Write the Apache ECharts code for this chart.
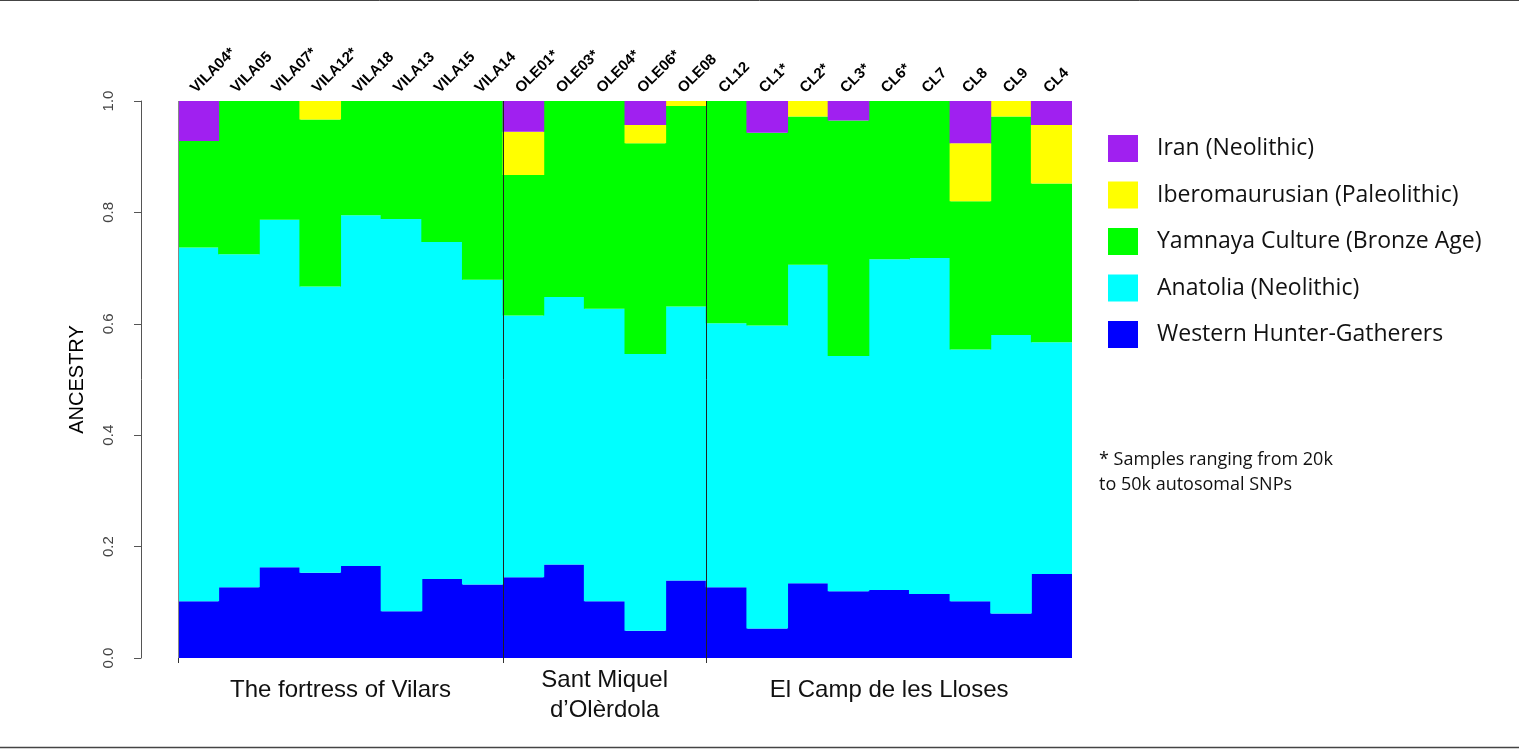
<!DOCTYPE html>
<html>
<head>
<meta charset="utf-8">
<title>Ancestry</title>
<script src="https://cdn.jsdelivr.net/npm/echarts@6/dist/echarts.min.js"></script>
<style>
  html, body { margin: 0; padding: 0; background: #fff; }
  #chart { width: 1519px; height: 750px; }
</style>
</head>
<body>
<div id="chart"></div>
<script>
// samples, left to right
const samples = ['VILA04*', 'VILA05', 'VILA07*', 'VILA12*', 'VILA18', 'VILA13', 'VILA15', 'VILA14',
  'OLE01*', 'OLE03*', 'OLE04*', 'OLE06*', 'OLE08',
  'CL12', 'CL1*', 'CL2*', 'CL3*', 'CL6*', 'CL7', 'CL8', 'CL9', 'CL4']

// ancestry proportions (bottom to top)
const whg      = [0.102, 0.127, 0.163, 0.153, 0.165, 0.084, 0.142, 0.132, 0.145, 0.168, 0.102, 0.049, 0.139, 0.127, 0.053, 0.134, 0.120, 0.122, 0.115, 0.102, 0.080, 0.151]
const anatolia = [0.635, 0.598, 0.624, 0.514, 0.630, 0.704, 0.605, 0.547, 0.470, 0.480, 0.525, 0.497, 0.492, 0.474, 0.544, 0.572, 0.422, 0.594, 0.603, 0.452, 0.500, 0.416]
const yamnaya  = [0.191, 0.275, 0.213, 0.300, 0.205, 0.212, 0.253, 0.321, 0.252, 0.352, 0.373, 0.378, 0.360, 0.399, 0.346, 0.266, 0.423, 0.284, 0.282, 0.266, 0.392, 0.285]
const ibero    = [0, 0, 0, 0.033, 0, 0, 0, 0, 0.078, 0, 0, 0.033, 0.009, 0, 0, 0.028, 0, 0, 0, 0.104, 0.028, 0.105]
const iran     = [0.072, 0, 0, 0, 0, 0, 0, 0, 0.055, 0, 0, 0.043, 0, 0, 0.057, 0, 0.035, 0, 0, 0.076, 0, 0.043]

const groupNames = ['The fortress of Vilars', 'Sant Miquel\nd\u2019Ol\u00e8rdola', 'El Camp de les Lloses']
const groupSizes = [8, 5, 9]
const groupStarts = [0, 8, 13]

const names = ['Western Hunter-Gatherers', 'Anatolia (Neolithic)', 'Yamnaya Culture (Bronze Age)', 'Iberomaurusian (Paleolithic)', 'Iran (Neolithic)']
const colors = ['#0000ff', '#00ffff', '#00ff00', '#ffff00', '#a020f0']
const values = [whg, anatolia, yamnaya, ibero, iran]

const gridLeft = 178, gridRight = 1072
const bandW = (gridRight - gridLeft) / samples.length

const chart = echarts.init(document.getElementById('chart'))

// bars overlap by a pixel so no seams show between neighbours
const series = values.map((v, i) => ({
  name: names[i],
  type: 'bar',
  stack: 'all',
  data: v,
  barWidth: bandW + 1,
  itemStyle: { color: colors[i] },
  emphasis: { disabled: true }
}))

// group separators
series.push({
  type: 'line',
  xAxisIndex: 1,
  data: [],
  silent: true,
  markLine: {
    silent: true,
    symbol: 'none',
    label: { show: false },
    data: groupStarts.map((s, i) => ({
      xAxis: s,
      lineStyle: { color: i === 0 ? '#888' : '#222', width: 1, type: 'solid' }
    }))
  }
})

const graphics = groupNames.map((g, i) => ({
  type: 'text',
  x: gridLeft + (groupStarts[i] + groupSizes[i] / 2) * bandW,
  y: i === 1 ? 695 : 690,
  style: {
    text: g,
    textAlign: 'center',
    textVerticalAlign: 'middle',
    fontFamily: 'Liberation Sans, Arial, sans-serif',
    fontSize: 24,
    lineHeight: 30,
    fill: '#111'
  }
}))
graphics.push(
  {
    type: 'text', x: 1099, y: 472,
    style: {
      text: '* Samples ranging from 20k\nto 50k autosomal SNPs',
      fontFamily: 'Open Sans, sans-serif', fontSize: 18, lineHeight: 25,
      textVerticalAlign: 'middle', fill: '#111'
    }
  },
  { type: 'line', shape: { x1: 0, y1: 0.5, x2: 1519, y2: 0.5 }, style: { stroke: '#444', lineWidth: 1 } },
  { type: 'line', shape: { x1: 0, y1: 747.5, x2: 1519, y2: 747.5 }, style: { stroke: '#444', lineWidth: 1.5 } }
)

chart.setOption({
  animation: false,
  grid: { left: gridLeft, right: 1519 - gridRight, top: 101, bottom: 92 },
  legend: {
    data: names.slice().reverse(),
    orient: 'vertical',
    left: 1108,
    top: 135,
    padding: 0,
    itemWidth: 30,
    itemHeight: 27,
    itemGap: 19.5,
    icon: 'rect',
    selectedMode: false,
    textStyle: { fontFamily: 'Open Sans, sans-serif', fontSize: 23, color: '#111', padding: [0, 0, 0, 14] }
  },
  xAxis: [
    {
      type: 'category',
      position: 'top',
      data: samples,
      axisLine: { show: false },
      axisTick: { show: false },
      axisLabel: {
        rotate: 45,
        interval: 0,
        margin: 5,
        verticalAlign: 'bottom',
        fontFamily: 'Liberation Sans, Arial, sans-serif',
        fontWeight: 'bold',
        fontSize: 15,
        color: '#000'
      }
    },
    {
      type: 'value',
      position: 'bottom',
      min: 0,
      max: samples.length,
      axisLine: { show: false, onZero: false },
      axisLabel: { show: false },
      splitLine: { show: false },
      axisTick: { show: true, length: 5, customValues: groupStarts, lineStyle: { color: '#333' } }
    }
  ],
  yAxis: {
    type: 'value',
    min: 0,
    max: 1,
    interval: 0.2,
    offset: 37,
    name: 'ANCESTRY',
    nameLocation: 'middle',
    nameRotate: 90,
    nameGap: 54,
    nameTextStyle: { fontFamily: 'Liberation Sans, Arial, sans-serif', fontSize: 20, color: '#000' },
    axisLine: { show: true, onZero: false, lineStyle: { color: '#555' } },
    axisTick: { show: true, length: 7, lineStyle: { color: '#555' } },
    splitLine: { show: false },
    axisLabel: {
      rotate: 90,
      margin: 25,
      formatter: v => v.toFixed(1),
      fontFamily: 'Liberation Sans, Arial, sans-serif',
      fontSize: 15,
      color: '#444'
    }
  },
  graphic: graphics,
  series
})
</script>
</body>
</html>
